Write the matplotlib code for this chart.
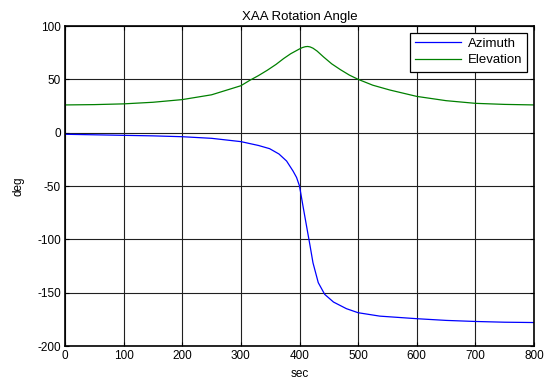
import matplotlib
matplotlib.use("Agg")
import matplotlib.pyplot as plt

plt.rcParams['font.family'] = ['Liberation Sans', 'DejaVu Sans']
plt.rcParams['axes.unicode_minus'] = False

title = "XAA Rotation Angle"
xlabel = "sec"
ylabel = "deg"
series_names = ["Azimuth", "Elevation"]

az_t = [0, 50, 100, 150, 200, 250, 300, 330, 349, 365, 378, 389, 395, 400, 406,
        412, 418, 423, 432, 443, 458, 480, 500, 537, 600, 650, 700, 750, 800]
az_v = [-1.5, -2, -2.5, -3, -3.8, -5.3, -8.4, -12, -15, -20, -26.6, -36, -42, -50, -69,
        -87.5, -106, -122, -140.6, -151.6, -158.8, -165, -168.8, -172, -174.4, -176, -177, -177.7, -178]

el_t = [0, 50, 100, 150, 200, 250, 300, 315, 330, 345, 360, 373, 385, 395, 400, 405,
        410, 414, 418, 423, 430, 441, 455, 470, 485, 500, 525, 554, 600, 650, 700, 750, 800]
el_v = [26, 26.3, 27, 28.5, 31, 35.5, 44, 49, 53.5, 58.5, 64, 69.5, 74, 77, 78.5, 79.8,
        80.6, 80.8, 80.4, 79.2, 76.5, 71, 64.5, 59, 54, 50, 44.5, 40, 34, 30, 27.5, 26.5, 26]

xticks = [0, 100, 200, 300, 400, 500, 600, 700, 800]
yticks = [-200, -150, -100, -50, 0, 50, 100]

fig = plt.figure(figsize=(5.59, 3.80), dpi=100)
ax = fig.add_axes([65/559, 1-346/380, (534-65)/559, (346-26)/380])

ax.plot(az_t, az_v, color='#0000ff', lw=0.9, label=series_names[0])
ax.plot(el_t, el_v, color='#008000', lw=0.9, label=series_names[1])

ax.set_xlim(0, 800)
ax.set_ylim(-200, 100)
ax.set_xticks(xticks)
ax.set_yticks(yticks)
ax.grid(True, color='#202020', lw=0.8, ls='-')
ax.set_axisbelow(True)
ax.tick_params(direction='in', top=True, right=True, length=3, labelsize=8.5, pad=3, width=0.8)
for s in ax.spines.values():
    s.set_linewidth(1.2)
    s.set_color('black')

ax.set_title(title, fontsize=9.5, pad=4)
ax.set_xlabel(xlabel, fontsize=8.5, labelpad=4)
ax.set_ylabel(ylabel, fontsize=8.5, labelpad=9)

leg = ax.legend(loc='upper right', fontsize=9.5, frameon=True, fancybox=False,
                edgecolor='black', framealpha=1, borderaxespad=0.5,
                handlelength=3.5, handletextpad=0.5, borderpad=0.4, labelspacing=0.3)
leg.get_frame().set_linewidth(0.9)

fig.savefig("out.png", dpi=100)
